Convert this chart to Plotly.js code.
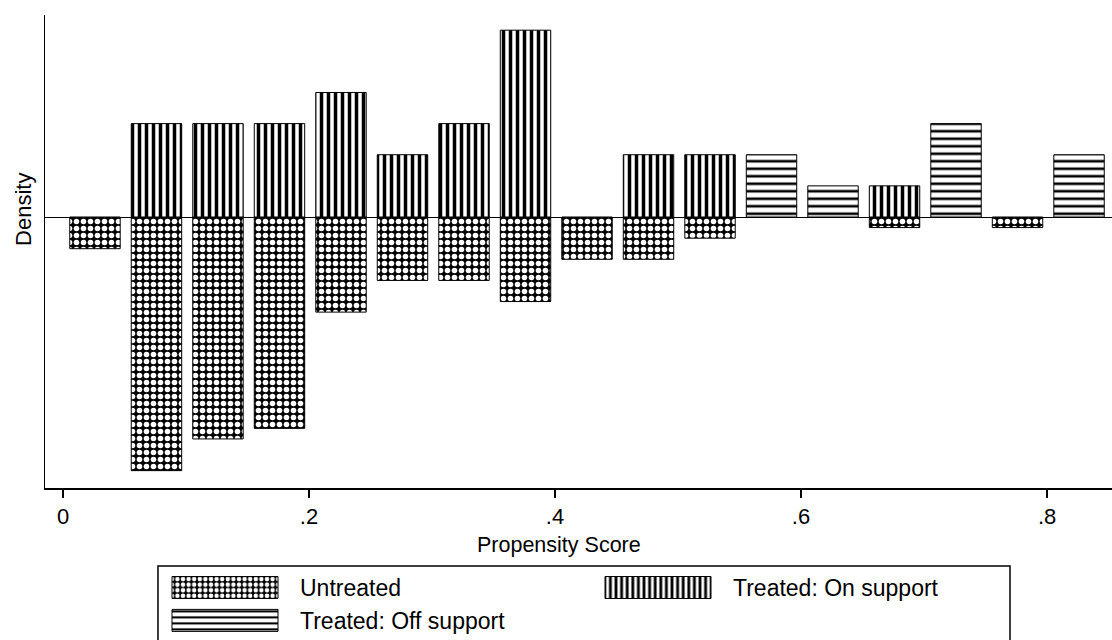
<!DOCTYPE html>
<html>
<head>
<meta charset="utf-8">
<script src="https://cdn.plot.ly/plotly-3.0.1.min.js"></script>
<style>html,body{margin:0;padding:0;background:#fff;}#chart{width:1112px;height:640px;}</style>
</head>
<body>
<div id="chart"></div>
<script>
// Bin centres of the propensity-score histogram
const binCenters = [0.026, 0.076, 0.126, 0.176, 0.226, 0.276, 0.326, 0.376, 0.426,
                    0.476, 0.526, 0.576, 0.626, 0.676, 0.726, 0.776, 0.826];
const binWidth = 0.05;
const untreatedCounts  = [3, 24, 21, 20, 9, 6, 6, 8, 4, 4, 2, 0, 0, 1, 0, 1, 0];
const treatedOnCounts  = [0, 3, 3, 3, 4, 2, 3, 6, 0, 2, 2, 0, 0, 1, 0, 0, 0];
const treatedOffCounts = [0, 0, 0, 0, 0, 0, 0, 0, 0, 0, 0, 2, 1, 0, 3, 0, 2];
const tickVals = [0, 0.2, 0.4, 0.6, 0.8];
const tickText = ['0', '.2', '.4', '.6', '.8'];
const seriesNames = ['Untreated', 'Treated: On support', 'Treated: Off support'];

const sum = a => a.reduce((s, v) => s + v, 0);
const nUntreated = sum(untreatedCounts);
const nTreated = sum(treatedOnCounts) + sum(treatedOffCounts);
// density; untreated drawn downward
const dens = (counts, n, sign) => counts.map(c => c === 0 ? null : sign * c / (n * binWidth));

const FONT = 'Liberation Sans, Arial, Helvetica, sans-serif';
const barW = 0.041;

const traces = [
  {
    type: 'bar', name: seriesNames[0], x: binCenters, y: dens(untreatedCounts, nUntreated, -1),
    width: barW, legend: 'legend',
    marker: {color: 'black', line: {color: 'black', width: 1},
             pattern: {shape: '.', bgcolor: 'black', fgcolor: 'white', size: 7, solidity: 0.5, fillmode: 'replace'}},
    hoverinfo: 'skip'
  },
  {
    type: 'bar', name: seriesNames[1], x: binCenters, y: dens(treatedOnCounts, nTreated, 1),
    width: barW, legend: 'legend2',
    marker: {color: 'white', line: {color: 'black', width: 1},
             pattern: {shape: '|', bgcolor: 'white', fgcolor: 'black', size: 7, solidity: 0.5, fillmode: 'replace'}},
    hoverinfo: 'skip'
  },
  {
    type: 'bar', name: seriesNames[2], x: binCenters, y: dens(treatedOffCounts, nTreated, 1),
    width: barW, legend: 'legend',
    marker: {color: 'white', line: {color: 'black', width: 1},
             pattern: {shape: '-', bgcolor: 'white', fgcolor: 'black', size: 7.5, solidity: 0.35, fillmode: 'replace'}},
    hoverinfo: 'skip'
  }
];

const legendCommon = {
  orientation: 'v', xref: 'paper', yref: 'paper', y: -0.165,
  xanchor: 'left', yanchor: 'top', bgcolor: 'rgba(0,0,0,0)', borderwidth: 0,
  font: {family: FONT, size: 23, color: 'black'},
  itemwidth: 140, traceorder: 'normal', itemclick: false, itemdoubleclick: false
};

const layout = {
  width: 1112, height: 640,
  margin: {l: 45, r: 0, t: 15, b: 152, pad: 0, autoexpand: false},
  paper_bgcolor: 'white', plot_bgcolor: 'white',
  font: {family: FONT, color: 'black', size: 22},
  barmode: 'overlay',
  showlegend: true,
  xaxis: {
    range: [-0.01463, 0.8528], showgrid: false, zeroline: false,
    showline: true, linecolor: 'black', linewidth: 1.5,
    ticks: 'outside', ticklen: 8, tickwidth: 1.5, tickcolor: 'black',
    tickvals: tickVals, ticktext: tickText,
    tickfont: {family: FONT, size: 22, color: 'black'}
  },
  yaxis: {
    range: [-4.705, 3.507], showgrid: false,
    zeroline: true, zerolinecolor: 'black', zerolinewidth: 1,
    showline: true, linecolor: 'black', linewidth: 1.5,
    showticklabels: false, ticks: ''
  },
  annotations: [
    {text: 'Propensity Score', xref: 'paper', yref: 'paper', x: 0.4817, y: -0.1205,
     xanchor: 'center', yanchor: 'middle', showarrow: false, font: {family: FONT, size: 21.5}},
    {text: 'Density', xref: 'paper', yref: 'paper', x: -0.0197, y: 0.59, textangle: -90,
     xanchor: 'center', yanchor: 'middle', showarrow: false, font: {family: FONT, size: 22}}
  ],
  shapes: [
    {type: 'rect', xref: 'paper', yref: 'paper', x0: 0.1059, x1: 0.9044, y0: -0.1649, y1: -0.40,
     line: {color: 'black', width: 1.5}, fillcolor: 'rgba(0,0,0,0)'}
  ],
  legend: Object.assign({}, legendCommon, {x: (150 - 45) / 1067}),
  legend2: Object.assign({}, legendCommon, {x: (583 - 45) / 1067})
};

Plotly.newPlot('chart', traces, layout, {staticPlot: true, displayModeBar: false}).then(() => {
  document.querySelectorAll('.legendpoints path').forEach(p => {
    p.setAttribute('d', 'M-53,-11H53V11H-53Z');
  });
});
</script>
</body>
</html>
